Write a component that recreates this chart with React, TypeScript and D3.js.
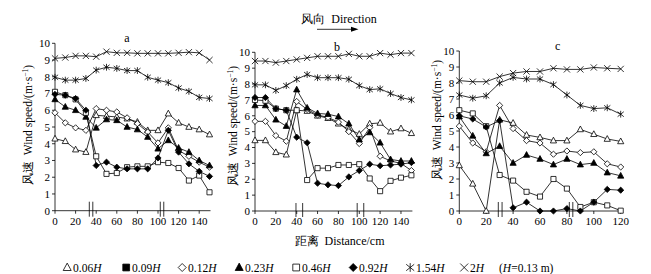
import React from "react";
import * as d3 from "d3";

const FONT = "Liberation Serif, Times New Roman, serif";

// distances (cm)
const distAB = [0, 10, 20, 30, 40, 50, 60, 70, 80, 90, 100, 110, 120, 130, 140, 150];
const distC = [0, 10, 20, 30, 40, 50, 60, 70, 80, 90, 100, 110, 120];
const xTicksAB = [0, 20, 40, 60, 80, 100, 120, 140];
const xTicksC = [0, 20, 40, 60, 80, 100, 120];
const yTicks = [0, 1, 2, 3, 4, 5, 6, 7, 8, 9, 10];

// panel a
const a006 = [4.3, 4.15, 3.65, 3.5, 5.7, 5.65, 5.6, 5.5, 5.3, 4.8, 4.8, 5.8, 5.25, 5.0, 4.85, 4.55];
const a012 = [5.85, 5.25, 4.95, 4.8, 6.1, 6.0, 5.9, 5.55, 5.2, 4.7, 4.05, 4.95, 3.6, 3.25, 2.9, 2.6];
const a023 = [6.65, 6.2, 6.0, 5.6, 4.95, 5.45, 5.4, 5.0, 4.85, 4.4, 3.7, 4.2, 3.75, 3.5, 3.0, 2.7];
const a046 = [7.1, 6.9, 6.65, 5.85, 3.25, 2.2, 2.25, 2.6, 2.65, 2.65, 2.9, 2.85, 2.55, 1.8, 2.1, 1.1];
const a092 = [6.95, 6.9, 6.7, 6.0, 2.7, 2.9, 2.6, 2.5, 2.5, 2.5, 3.15, 4.8, 3.5, 2.8, 2.35, 2.05];
const a154 = [7.97, 7.8, 7.8, 7.9, 8.4, 8.57, 8.5, 8.37, 8.37, 7.97, 7.8, 7.65, 7.33, 7.13, 6.77, 6.7];
const a2 = [9.1, 9.15, 9.25, 9.25, 9.2, 9.5, 9.43, 9.43, 9.4, 9.4, 9.4, 9.4, 9.43, 9.47, 9.43, 9.0];

// panel b
const b006 = [4.45, 4.45, 3.7, 3.55, 6.35, 6.3, 6.0, 5.85, 5.5, 5.15, 4.85, 5.5, 5.55, 5.0, 5.2, 4.9];
const b012 = [5.65, 5.65, 4.75, 4.4, 6.9, 6.4, 6.05, 5.9, 5.6, 5.0, 4.25, 5.25, 3.45, 3.15, 3.0, 2.55];
const b023 = [6.65, 6.65, 5.75, 5.35, 7.65, 6.5, 6.15, 6.1, 5.95, 5.5, 4.5, 4.95, 4.3, 3.25, 3.15, 3.15];
const b046 = [7.0, 6.95, 6.45, 6.35, 6.35, 1.95, 2.7, 2.7, 2.9, 2.9, 2.95, 2.05, 1.25, 1.9, 2.1, 2.25];
const b092 = [7.15, 7.15, 6.45, 6.35, 4.65, 4.3, 1.75, 1.65, 1.6, 2.15, 2.55, 2.95, 2.85, 2.9, 2.95, 3.05];
const b154 = [7.95, 7.95, 7.6, 7.9, 8.3, 8.6, 8.4, 8.4, 8.4, 8.3, 7.9, 7.65, 7.7, 7.4, 7.15, 7.0];
const b2 = [9.45, 9.45, 9.35, 9.45, 9.55, 9.65, 9.75, 9.75, 9.75, 9.9, 9.75, 9.75, 9.95, 9.85, 9.95, 9.95];

// panel c
const c006 = [2.85, 1.7, 0, 5.7, 5.5, 4.75, 4.6, 4.4, 4.4, 5.1, 4.8, 4.5, 4.35];
const c012 = [5.3, 4.25, 3.7, 6.6, 5.15, 4.4, 4.25, 3.55, 3.75, 3.65, 3.7, 2.95, 2.75];
const c023 = [5.9, 4.7, 3.6, 4.05, 3.0, 3.5, 3.25, 2.9, 3.25, 2.9, 3.0, 2.4, 2.2];
const c046 = [6.3, 6.1, 5.3, 2.25, 1.9, 1.2, 0.9, 2.0, 1.4, 0.25, 0.55, 0.35, 0.02];
const c092 = [5.95, 5.75, 5.25, 5.65, 0.2, 0.55, 0, 0, 0.15, 0, 0.55, 1.35, 1.3];
const c154 = [7.25, 7.05, 7.2, 8.0, 8.35, 8.25, 8.25, 7.9, 7.25, 6.6, 6.4, 6.45, 6.05];
const c2 = [8.15, 8.08, 8.08, 8.4, 8.62, 8.72, 8.72, 8.92, 8.85, 8.85, 8.97, 8.92, 8.88];

// axis break marks (cm positions)
const breaksA = [33.3, 36.7, 102.2, 105.6];
const breaksB = [39.3, 45.7, 98.0, 104.3];
const breaksC = [29.0, 31.8, 81.8, 84.4];

const legendNames = ["0.06", "0.09", "0.12", "0.23", "0.46", "0.92", "1.54", "2"];
const legendTypes = ["triO", "sqF", "diaO", "triF", "sqO", "diaF", "ast", "x"];

// drawing order types for series in each panel
const seriesTypes = ["x", "ast", "triO", "diaO", "triF", "sqO", "diaF"];

function markerPath(type: string, x: number, y: number, s: number) {
  const p = d3.path();
  if (type.startsWith("tri")) {
    p.moveTo(x, y - s * 1.1);
    p.lineTo(x + s, y + s * 0.75);
    p.lineTo(x - s, y + s * 0.75);
    p.closePath();
  } else if (type.startsWith("dia")) {
    p.moveTo(x, y - s);
    p.lineTo(x + s, y);
    p.lineTo(x, y + s);
    p.lineTo(x - s, y);
    p.closePath();
  } else if (type.startsWith("sq")) {
    const h = s * 0.85;
    p.rect(x - h, y - h, 2 * h, 2 * h);
  } else if (type === "x") {
    p.moveTo(x - s, y - s);
    p.lineTo(x + s, y + s);
    p.moveTo(x - s, y + s);
    p.lineTo(x + s, y - s);
  } else if (type === "ast") {
    p.moveTo(x - s, y - s * 0.8);
    p.lineTo(x + s, y + s * 0.8);
    p.moveTo(x - s, y + s * 0.8);
    p.lineTo(x + s, y - s * 0.8);
    p.moveTo(x, y - s * 1.1);
    p.lineTo(x, y + s * 1.1);
  }
  return p.toString();
}

function Marker({ type, x, y, s }: { type: string; x: number; y: number; s: number }) {
  const filled = type.endsWith("F");
  const open = type.endsWith("O");
  return (
    <path
      d={markerPath(type, x, y, s)}
      fill={filled ? "#000" : open ? "#fff" : "none"}
      stroke="#000"
      strokeWidth={0.8}
    />
  );
}

type PanelProps = {
  label: string;
  dist: number[];
  series: number[][];
  xTicks: number[];
  breaks: number[];
  xMax: number;
  xr: [number, number];
  yr: [number, number];
  labelX: number;
  ylabX: number;
  ylabY: number;
  breakTall: boolean;
};

function Panel(props: PanelProps) {
  const { label, dist, series, xTicks, breaks, xMax, xr, yr, labelX, ylabX, ylabY, breakTall } = props;
  const x = d3.scaleLinear().domain([0, xMax]).range(xr);
  const y = d3.scaleLinear().domain([0, 10]).range(yr);
  const line = d3
    .line<number>()
    .x((_, i) => x(dist[i]))
    .y((d) => y(d));
  const axisEnd = x(dist[dist.length - 1]) + 1;
  return (
    <g>
      <text x={labelX} y={yr[1] - 1} fontSize={12} textAnchor="middle">
        {label}
      </text>
      {/* y label */}
      <text
        transform={`translate(${ylabX},${ylabY}) rotate(-90)`}
        fontSize={11.5}
        textAnchor="middle"
        style={{ whiteSpace: "pre" }}
      >
        {"风速  Wind speed/(m·s"}
        <tspan dy={-4} fontSize={7.5}>
          {"−1"}
        </tspan>
        <tspan dy={4}>{")"}</tspan>
      </text>
      {/* axes */}
      <line x1={xr[0]} x2={xr[0]} y1={y(0)} y2={y(10)} stroke="#000" strokeWidth={0.8} />
      <line x1={xr[0]} x2={axisEnd} y1={y(0)} y2={y(0)} stroke="#000" strokeWidth={0.8} />
      {yTicks.map((t) => (
        <g key={"y" + t}>
          <line x1={xr[0] - 3} x2={xr[0]} y1={y(t)} y2={y(t)} stroke="#000" strokeWidth={0.8} />
          <text x={xr[0] - 5} y={y(t) + 3.8} fontSize={11} textAnchor="end">
            {t}
          </text>
        </g>
      ))}
      {xTicks.map((t) => (
        <g key={"x" + t}>
          <line x1={x(t)} x2={x(t)} y1={y(0)} y2={y(0) + 3} stroke="#000" strokeWidth={0.8} />
          <text x={x(t)} y={y(0) + 14} fontSize={11} textAnchor="middle">
            {t}
          </text>
        </g>
      ))}
      {breaks.map((b, i) => (
        <line
          key={"b" + i}
          x1={x(b)}
          x2={x(b)}
          y1={y(0) - (breakTall ? 8 : 9)}
          y2={y(0) + 6}
          stroke="#000"
          strokeWidth={0.8}
        />
      ))}
      {series.map((s, si) => (
        <g key={"s" + si}>
          <path d={line(s) || ""} fill="none" stroke="#000" strokeWidth={0.8} />
        </g>
      ))}
      {series.map((s, si) =>
        s.map((v, i) => (
          <Marker
            key={si + "-" + i}
            type={seriesTypes[si]}
            x={x(dist[i])}
            y={y(v)}
            s={seriesTypes[si] === "sqO" ? 3 : 3.1}
          />
        ))
      )}
    </g>
  );
}

export default function App() {
  const legendX = [63, 122, 178, 235, 292, 349, 406, 460];
  return (
    <svg
      width={651}
      height={274}
      style={{ position: "absolute", left: 0, top: 0, background: "#fff", fontFamily: FONT }}
    >
      <rect width={651} height={274} fill="#fff" />
      <text x={339} y={23} fontSize={12} textAnchor="middle" style={{ whiteSpace: "pre" }}>
        {"风向  Direction"}
      </text>
      <line x1={317} x2={356} y1={29.3} y2={29.3} stroke="#000" strokeWidth={0.8} />
      <path d="M351,26.8 L358.5,29.3 L351,31.8 Z" fill="#000" />

      <Panel
        label="a"
        dist={distAB}
        series={[a2, a154, a006, a012, a023, a046, a092]}
        xTicks={xTicksAB}
        breaks={breaksA}
        xMax={150}
        xr={[55, 209.5]}
        yr={[210.7, 43.3]}
        labelX={127}
        ylabX={32}
        ylabY={125}
        breakTall={false}
      />
      <Panel
        label="b"
        dist={distAB}
        series={[b2, b154, b006, b012, b023, b046, b092]}
        xTicks={xTicksAB}
        breaks={breaksB}
        xMax={150}
        xr={[255, 411.4]}
        yr={[211, 52.3]}
        labelX={337}
        ylabX={236.5}
        ylabY={126}
        breakTall={true}
      />
      <Panel
        label="c"
        dist={distC}
        series={[c2, c154, c006, c012, c023, c046, c092]}
        xTicks={xTicksC}
        breaks={breaksC}
        xMax={120}
        xr={[459.3, 620.7]}
        yr={[211, 51]}
        labelX={557.7}
        ylabX={440.5}
        ylabY={120}
        breakTall={false}
      />

      <text x={339.5} y={245} fontSize={12} textAnchor="middle" style={{ whiteSpace: "pre" }}>
        {"距离  Distance/cm"}
      </text>

      {legendNames.map((n, i) => (
        <g key={"lg" + i}>
          <Marker type={legendTypes[i]} x={legendX[i] + 4.2} y={267.5} s={4} />
          <text x={legendX[i] + 10} y={271.5} fontSize={11.5}>
            {n}
            <tspan fontStyle="italic">H</tspan>
          </text>
        </g>
      ))}
      <text x={499} y={271.5} fontSize={11.5}>
        {"("}
        <tspan fontStyle="italic">H</tspan>
        {"=0.13 m)"}
      </text>
    </svg>
  );
}
